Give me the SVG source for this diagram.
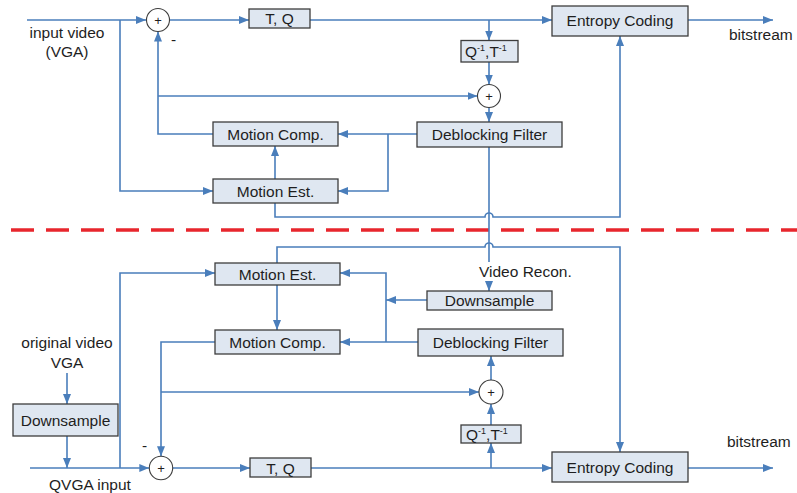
<svg xmlns="http://www.w3.org/2000/svg" width="797" height="493" viewBox="0 0 797 493">
  <style>
    .box { fill: #dfe7f1; stroke: #3d3d3d; stroke-width: 1.3; }
    .sum { fill: #ffffff; stroke: #3d3d3d; stroke-width: 1.1; }
    .wire { fill: none; stroke: #4a7ebb; stroke-width: 1.6; }
    .arr { marker-end: url(#head); }
    .lbl { font-family: "Liberation Sans", Arial, sans-serif; font-size: 15.5px; fill: #1e1e1e; }
    .mid { text-anchor: middle; }
    .plus { font-family: "Liberation Sans", Arial, sans-serif; font-size: 13px; fill: #1e1e1e; text-anchor: middle; }
    .sup { font-size: 9px; }
  </style>
  <defs>
    <marker id="head" viewBox="0 0 10 10" refX="10" refY="5" markerWidth="10" markerHeight="10" markerUnits="userSpaceOnUse" orient="auto">
      <path d="M0,1 L10,5 L0,9 Z" fill="#4a7ebb"/>
    </marker>
  </defs>

  <rect width="797" height="493" fill="#ffffff"/>

  <!-- separator between the VGA encoder and the QVGA encoder -->
  <line x1="11" y1="230" x2="797" y2="230" stroke="#e8262d" stroke-width="3.5" stroke-dasharray="23 12"/>

  <g id="connectors">
    <!-- upper encoder -->
    <path class="wire arr" d="M27,20 H146"/>
    <path class="wire arr" d="M169.5,20 H249"/>
    <path class="wire arr" d="M310,20 H552"/>
    <path class="wire arr" d="M688,20 H773"/>
    <path class="wire arr" d="M489,20 V40.5"/>
    <path class="wire arr" d="M489,62 V84.5"/>
    <path class="wire arr" d="M489,107.5 V122"/>
    <path class="wire arr" d="M158,96 H477.5"/>
    <path class="wire arr" d="M213,134 H158 V31.5"/>
    <path class="wire arr" d="M417,134 H338"/>
    <path class="wire arr" d="M388,134 V191 H338"/>
    <path class="wire arr" d="M275,179 V146"/>
    <path class="wire arr" d="M120,20 V191 H213"/>
    <path class="wire arr" d="M275,203 V217 H485 a4,4 0 0 1 8,0 H620 V36"/>
    <!-- reconstructed VGA frame handed down to the QVGA encoder -->
    <path class="wire arr" d="M489,147 V291"/>

    <!-- lower encoder -->
    <path class="wire arr" d="M277,263 V247 H485 a4,4 0 0 1 8,0 H620 V452"/>
    <path class="wire arr" d="M277,285 V330"/>
    <path class="wire arr" d="M120,468 V273 H215"/>
    <path class="wire arr" d="M30,468 H149.3"/>
    <path class="wire arr" d="M172.7,468 H250"/>
    <path class="wire arr" d="M311,468 H552"/>
    <path class="wire arr" d="M688,468 H773"/>
    <path class="wire arr" d="M491,468 V443"/>
    <path class="wire arr" d="M491,425 V404"/>
    <path class="wire arr" d="M491,380 V356"/>
    <path class="wire arr" d="M161,392 H479"/>
    <path class="wire arr" d="M215,342 H161 V456.3"/>
    <path class="wire arr" d="M427,300 H386"/>
    <path class="wire arr" d="M418,342 H340"/>
    <path class="wire arr" d="M386,342 V273 H340"/>
    <path class="wire arr" d="M67,373 V404"/>
    <path class="wire arr" d="M67,436 V468"/>
  </g>

  <!-- free labels -->
  <g id="labels">
    <text class="lbl mid" x="67" y="38">input video</text>
    <text class="lbl mid" x="67" y="57">(VGA)</text>
    <text class="lbl" x="171" y="45">-</text>
    <text class="lbl" x="729" y="40">bitstream</text>
    <rect x="478" y="262" width="100" height="19" fill="#ffffff"/>
    <text class="lbl" x="479" y="277">Video Recon.</text>
    <text class="lbl mid" x="67" y="348">original video</text>
    <text class="lbl mid" x="67" y="368">VGA</text>
    <text class="lbl" x="142" y="451">-</text>
    <text class="lbl mid" x="90" y="490">QVGA input</text>
    <text class="lbl" x="727" y="447">bitstream</text>
  </g>

  <!-- upper encoder nodes -->
  <g id="sum-top-in">
    <circle class="sum" cx="158" cy="20" r="11.5"/>
    <text class="plus" x="158" y="24.5">+</text>
  </g>
  <g id="tq-top">
    <rect class="box" x="249" y="9" width="61" height="19"/>
    <text class="lbl mid" x="279.5" y="24">T, Q</text>
  </g>
  <g id="entropy-top">
    <rect class="box" x="552" y="6" width="136" height="30"/>
    <text class="lbl mid" x="620" y="26">Entropy Coding</text>
  </g>
  <g id="iqit-top">
    <rect class="box" x="461" y="40.5" width="57" height="21.5"/>
    <text class="lbl" x="465" y="57">Q<tspan class="sup" dy="-6">-1</tspan><tspan dy="6">,T</tspan><tspan class="sup" dy="-6">-1</tspan></text>
  </g>
  <g id="sum-top-rec">
    <circle class="sum" cx="489" cy="96" r="11.5"/>
    <text class="plus" x="489" y="100.5">+</text>
  </g>
  <g id="deblock-top">
    <rect class="box" x="417" y="122" width="145" height="25"/>
    <text class="lbl mid" x="489.5" y="140">Deblocking Filter</text>
  </g>
  <g id="mc-top">
    <rect class="box" x="213" y="122" width="125" height="24"/>
    <text class="lbl mid" x="275.5" y="139.5">Motion Comp.</text>
  </g>
  <g id="me-top">
    <rect class="box" x="213" y="179" width="125" height="24"/>
    <text class="lbl mid" x="275.5" y="196.5">Motion Est.</text>
  </g>

  <!-- lower encoder nodes -->
  <g id="me-bottom">
    <rect class="box" x="215" y="263" width="125" height="22"/>
    <text class="lbl mid" x="277.5" y="279.5">Motion Est.</text>
  </g>
  <g id="mc-bottom">
    <rect class="box" x="215" y="330" width="125" height="24"/>
    <text class="lbl mid" x="277.5" y="347.5">Motion Comp.</text>
  </g>
  <g id="downsample-recon">
    <rect class="box" x="427" y="291" width="125" height="19"/>
    <text class="lbl mid" x="489.5" y="306">Downsample</text>
  </g>
  <g id="deblock-bottom">
    <rect class="box" x="418" y="329" width="145" height="27"/>
    <text class="lbl mid" x="490.5" y="348">Deblocking Filter</text>
  </g>
  <g id="sum-bottom-rec">
    <circle class="sum" cx="491" cy="392" r="12"/>
    <text class="plus" x="491" y="396.5">+</text>
  </g>
  <g id="iqit-bottom">
    <rect class="box" x="461" y="425" width="60" height="18"/>
    <text class="lbl" x="466" y="440">Q<tspan class="sup" dy="-6">-1</tspan><tspan dy="6">,T</tspan><tspan class="sup" dy="-6">-1</tspan></text>
  </g>
  <g id="downsample-input">
    <rect class="box" x="13" y="404" width="105" height="32"/>
    <text class="lbl mid" x="65.5" y="425.5">Downsample</text>
  </g>
  <g id="sum-bottom-in">
    <circle class="sum" cx="161" cy="468" r="11.7"/>
    <text class="plus" x="161" y="472.5">+</text>
  </g>
  <g id="tq-bottom">
    <rect class="box" x="250" y="458" width="61" height="19"/>
    <text class="lbl mid" x="280.5" y="473.5">T, Q</text>
  </g>
  <g id="entropy-bottom">
    <rect class="box" x="552" y="452" width="136" height="30"/>
    <text class="lbl mid" x="620" y="472.5">Entropy Coding</text>
  </g>
</svg>
